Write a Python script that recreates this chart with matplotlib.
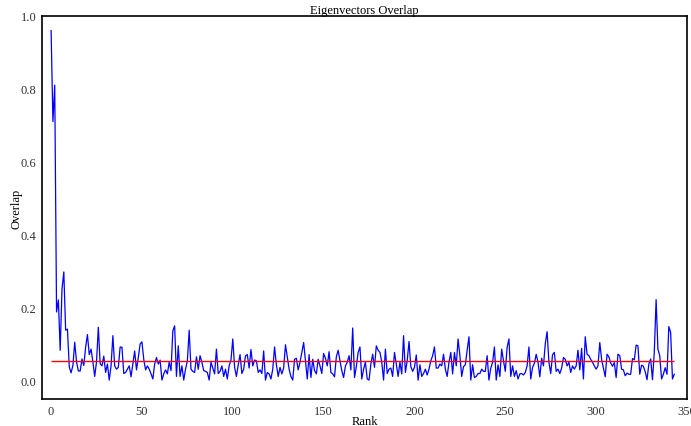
import numpy as np
import matplotlib
matplotlib.use("Agg")
import matplotlib.pyplot as plt

# --- andmed (loetud pildilt) ---
overlap = [
    0.96, 0.71, 0.81, 0.187, 0.22, 0.082, 0.25, 0.297, 0.137, 0.14,
    0.036, 0.02, 0.04, 0.104, 0.05, 0.025, 0.025, 0.058, 0.04, 0.09,
    0.125, 0.07, 0.085, 0.05, 0.01, 0.05, 0.145, 0.045, 0.039, 0.066,
    0.021, 0.044, 0.0, 0.039, 0.122, 0.039, 0.03, 0.035, 0.091, 0.09,
    0.018, 0.021, 0.03, 0.039, 0.009, 0.044, 0.08, 0.028, 0.062, 0.099,
    0.105, 0.057, 0.028, 0.039, 0.03, 0.017, 0.003, 0.044, 0.062, 0.044,
    0.055, 0.0, 0.017, 0.028, 0.017, 0.049, 0.026, 0.135, 0.149, 0.01,
    0.094, 0.01, 0.039, 0.0, 0.03, 0.053, 0.137, 0.03, 0.024, 0.021,
    0.064, 0.03, 0.067, 0.049, 0.026, 0.024, 0.021, 0.0, 0.049, 0.033,
    0.017, 0.085, 0.018, 0.024, 0.039, 0.01, 0.03, 0.003, 0.039, 0.055,
    0.113, 0.035, 0.01, 0.042, 0.07, 0.018, 0.03, 0.067, 0.07, 0.033,
    0.084, 0.039, 0.055, 0.053, 0.021, 0.028, 0.018, 0.08, 0.0, 0.021,
    0.017, 0.003, 0.03, 0.091, 0.042, 0.01, 0.035, 0.017, 0.033, 0.097,
    0.064, 0.03, 0.01, 0.0, 0.057, 0.06, 0.028, 0.049, 0.076, 0.103,
    0.053, 0.003, 0.07, 0.007, 0.057, 0.026, 0.017, 0.057, 0.039, 0.018,
    0.073, 0.06, 0.039, 0.078, 0.021, 0.017, 0.009, 0.064, 0.082, 0.053,
    0.026, 0.007, 0.039, 0.049, 0.067, 0.028, 0.143, 0.007, 0.037, 0.076,
    0.091, 0.003, 0.03, 0.049, 0.003, 0.0, 0.044, 0.071, 0.035, 0.094,
    0.082, 0.076, 0.049, 0.0, 0.085, 0.018, 0.03, 0.033, 0.01, 0.076,
    0.044, 0.01, 0.049, 0.017, 0.122, 0.021, 0.053, 0.106, 0.037, 0.024,
    0.035, 0.069, 0.0, 0.042, 0.01, 0.018, 0.03, 0.014, 0.03, 0.053,
    0.067, 0.091, 0.033, 0.033, 0.044, 0.039, 0.071, 0.03, 0.01, 0.049,
    0.076, 0.017, 0.076, 0.039, 0.113, 0.067, 0.01, 0.037, 0.042, 0.082,
    0.119, 0.0, 0.042, 0.007, 0.01, 0.018, 0.018, 0.03, 0.024, 0.024,
    0.067, 0.0, 0.033, 0.049, 0.091, 0.0, 0.042, 0.01, 0.085, 0.053,
    0.024, 0.09, 0.113, 0.01, 0.039, 0.01, 0.026, 0.003, 0.017, 0.018,
    0.014, 0.021, 0.039, 0.091, 0.003, 0.035, 0.046, 0.071, 0.049, 0.009,
    0.06, 0.039, 0.1, 0.133, 0.049, 0.018, 0.07, 0.076, 0.024, 0.03,
    0.018, 0.033, 0.062, 0.057, 0.039, 0.049, 0.021, 0.039, 0.03, 0.039,
    0.082, 0.028, 0.087, 0.003, 0.119, 0.071, 0.067, 0.057, 0.049, 0.039,
    0.03, 0.039, 0.103, 0.057, 0.033, 0.009, 0.071, 0.064, 0.047, 0.038,
    0.048, 0.007, 0.071, 0.067, 0.03, 0.028, 0.012, 0.019, 0.016, 0.016,
    0.059, 0.056, 0.096, 0.094, 0.016, 0.041, 0.038, 0.023, 0.001, 0.044,
    0.058, 0.001, 0.076, 0.221, 0.085, 0.067, 0.003, 0.016, 0.034, 0.016,
    0.147, 0.131, 0.003, 0.016,
]
mean_overlap = 0.053

ranks = np.arange(len(overlap))

plt.rcParams["font.family"] = ["Liberation Serif", "DejaVu Serif"]
plt.rcParams["font.size"] = 9

fig = plt.figure(figsize=(6.91, 4.27), dpi=100)
ax = fig.add_axes([0.0608, 0.0632, 0.9334, 0.897])

ax.plot(ranks, overlap, color="blue", linewidth=0.9)
ax.hlines(mean_overlap, ranks[0], ranks[-1], color="red", linewidth=1.0, zorder=3)

ax.set_xlim(-5, 350)
ax.set_ylim(-0.052, 1.0)
ax.set_xticks([0, 50, 100, 150, 200, 250, 300, 350])
ax.set_yticks([0.0, 0.2, 0.4, 0.6, 0.8, 1.0])
ax.tick_params(length=0, pad=4, labelcolor="#333333")

for s in ax.spines.values():
    s.set_linewidth(1.2)

ax.set_title("Eigenvectors Overlap", fontsize=9, pad=2)
ax.set_xlabel("Rank", labelpad=-1)
ax.set_ylabel("Overlap", labelpad=-1)

fig.savefig("out.png", dpi=100)
